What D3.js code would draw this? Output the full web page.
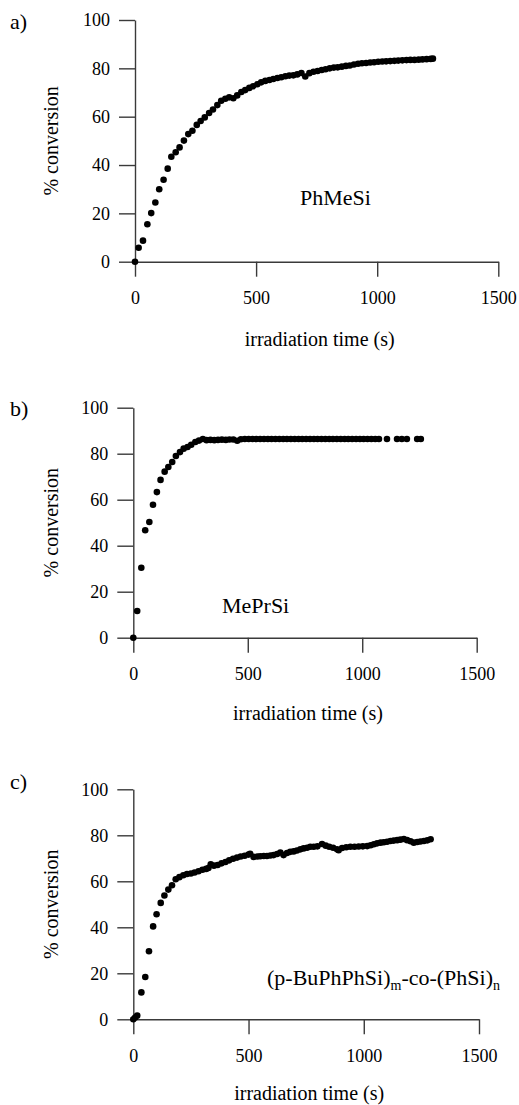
<!DOCTYPE html>
<html>
<head>
<meta charset="utf-8">
<script src="https://cdn.jsdelivr.net/npm/d3@7"></script>
<style>
  body { margin: 0; background: #fff; }
  svg { display: block; }
  svg text { font-family: "Liberation Serif", "Times New Roman", serif; }
</style>
</head>
<body>
<div id="chart"></div>
<script>
// panel a) PhMeSi
const timeA = [0, 15, 33, 51, 67, 84, 100, 118, 135, 150, 168, 184, 202, 220, 237, 255, 271, 288, 306, 322,
  340, 356, 373, 389, 406, 422, 439, 455, 472, 488, 505, 521, 538, 555, 571, 588, 604, 621, 637, 654,
  670, 687, 703, 720, 737, 754, 771, 787, 804, 821, 837, 854, 871, 887, 904, 921, 937, 954, 971, 987,
  1004, 1021, 1037, 1054, 1071, 1087, 1104, 1121, 1137, 1154, 1171, 1187, 1204, 1221, 1230];
const convA = [0, 5.8, 8.7, 15.5, 20.1, 24.5, 30.0, 33.9, 38.5, 43.4, 45.3, 47.3, 50.1, 52.8, 54.2, 56.6, 58.2, 59.7, 61.5, 63.0,
  64.8, 66.6, 67.4, 68.0, 67.6, 68.8, 70.2, 71.0, 71.9, 72.6, 73.4, 74.2, 74.8, 75.2, 75.6, 76.0, 76.3, 76.7, 77.0, 77.1,
  77.5, 78.1, 76.6, 78.0, 78.6, 78.9, 79.3, 79.6, 80.0, 80.3, 80.4, 80.7, 81.0, 81.2, 81.6, 81.9, 82.1, 82.2, 82.4, 82.5,
  82.7, 82.8, 82.9, 83.0, 83.1, 83.2, 83.3, 83.4, 83.5, 83.5, 83.6, 83.7, 83.8, 83.9, 84.0];

// panel b) MePrSi
const timeB = [0, 17, 35, 52, 70, 86, 103, 119, 137, 153, 170, 186, 204, 220, 237, 253, 271, 287, 304, 320,
  337, 354, 370, 387, 404, 420, 437, 454, 470, 487, 504, 521, 537, 554, 571, 588, 604, 621, 638, 655,
  671, 688, 705, 722, 738, 755, 772, 789, 805, 822, 839, 856, 872, 889, 906, 923, 939, 956, 973, 990,
  1006, 1023, 1040, 1057, 1073, 1108, 1152, 1173, 1195, 1240, 1256];
const convB = [0, 11.6, 30.4, 46.7, 50.3, 57.8, 63.3, 68.6, 72.2, 74.2, 76.4, 79.0, 80.7, 82.2, 82.9, 83.9, 85.1, 85.7, 86.4, 85.9,
  86.0, 85.9, 86.0, 86.1, 86.0, 86.2, 86.2, 85.6, 86.3, 86.4, 86.4, 86.4, 86.4, 86.4, 86.4, 86.4, 86.4, 86.4, 86.4, 86.4,
  86.4, 86.4, 86.4, 86.4, 86.4, 86.4, 86.4, 86.4, 86.4, 86.4, 86.4, 86.4, 86.4, 86.4, 86.4, 86.4, 86.4, 86.4, 86.4, 86.4,
  86.4, 86.4, 86.4, 86.4, 86.4, 86.4, 86.4, 86.4, 86.4, 86.4, 86.4];

// panel c) (p-BuPhPhSi)m-co-(PhSi)n
const timeC = [0, 8, 17, 35, 52, 68, 86, 101, 119, 135, 152, 168, 184, 200, 217, 233, 250, 266, 283, 300,
  316, 326, 336, 350, 366, 383, 400, 416, 433, 450, 466, 483, 500, 507, 522, 538, 551, 566, 580, 595,
  609, 624, 638, 652, 667, 681, 696, 710, 725, 739, 754, 768, 783, 799, 819, 835, 850, 867, 884, 891,
  906, 924, 942, 960, 978, 996, 1015, 1030, 1044, 1058, 1073, 1087, 1101, 1116, 1130, 1145, 1159, 1174, 1188, 1203,
  1217, 1232, 1246, 1261, 1276, 1290];
const convC = [0, 0.8, 1.6, 11.7, 18.4, 29.6, 40.4, 45.7, 50.6, 53.8, 56.4, 58.3, 60.9, 61.8, 62.6, 63.2, 63.4, 63.8, 64.4, 65.0,
  65.4, 65.8, 67.4, 66.8, 67.1, 67.8, 68.4, 69.1, 69.8, 70.3, 70.8, 71.1, 71.6, 72.0, 70.6, 70.8, 70.9, 71.0, 71.0, 71.2,
  71.4, 71.9, 72.5, 71.4, 72.3, 72.8, 73.0, 73.4, 73.9, 74.3, 74.6, 75.0, 75.0, 75.2, 76.2, 75.5, 75.0, 74.6, 73.9, 73.5,
  74.5, 74.8, 75.0, 75.0, 75.1, 75.2, 75.3, 75.7, 76.1, 76.5, 76.8, 77.0, 77.2, 77.5, 77.7, 77.9, 78.1, 78.4, 77.9, 77.4,
  76.8, 77.1, 77.3, 77.5, 77.8, 78.3];

const xTicks = [0, 500, 1000, 1500];
const yTicks = [0, 20, 40, 60, 80, 100];

const width = 519;
const height = 1105;
const font = "'Liberation Serif', 'Times New Roman', serif";
const axisColor = "#3a3a3a";

const panels = [
  {tag: "a)", tagY: 29, left: 135, right: 498.3, top: 20, bottom: 261.7, titleY: 346,
   time: timeA, conv: convA, label: "PhMeSi", labelX: 300, labelY: 205},
  {tag: "b)", tagY: 416, left: 133.3, right: 476.7, top: 407.7, bottom: 637.7, titleY: 720,
   time: timeB, conv: convB, label: "MePrSi", labelX: 222, labelY: 613},
  {tag: "c)", tagY: 789, left: 133.3, right: 479, top: 789.3, bottom: 1019.3, titleY: 1100,
   time: timeC, conv: convC, label: null, labelX: 267, labelY: 985}
];

const svg = d3.select("#chart").append("svg")
  .attr("width", width)
  .attr("height", height)
  .attr("viewBox", [0, 0, width, height]);

panels.forEach(p => {
  const x = d3.scaleLinear().domain([0, 1500]).range([p.left, p.right]);
  const y = d3.scaleLinear().domain([0, 100]).range([p.bottom, p.top]);
  const g = svg.append("g");

  // y axis
  g.append("g")
    .attr("transform", `translate(${p.left},0)`)
    .call(d3.axisLeft(y).tickValues(yTicks).tickFormat(d3.format("d"))
      .tickSize(16).tickPadding(9).tickSizeOuter(0))
    .call(a => a.attr("font-family", null))
    .call(a => a.selectAll("path, line").attr("stroke", axisColor).attr("stroke-width", 1.4))
    .call(a => a.selectAll("text").attr("fill", "#000").attr("font-size", 18).style("font-family", font));

  // x axis
  g.append("g")
    .attr("transform", `translate(0,${p.bottom})`)
    .call(d3.axisBottom(x).tickValues(xTicks).tickFormat(d3.format("d"))
      .tickSize(15).tickPadding(15).tickSizeOuter(0))
    .call(a => a.attr("font-family", null))
    .call(a => a.selectAll("path, line").attr("stroke", axisColor).attr("stroke-width", 1.4))
    .call(a => a.selectAll("text").attr("fill", "#000").attr("font-size", 18).style("font-family", font));

  // axis titles
  g.append("text")
    .attr("transform", `translate(58,${(p.top + p.bottom) / 2}) rotate(-90)`)
    .attr("text-anchor", "middle")
    .attr("font-size", 20)
    .text("% conversion");

  g.append("text")
    .attr("x", (p.left + p.right) / 2 + 3)
    .attr("y", p.titleY)
    .attr("text-anchor", "middle")
    .attr("font-size", 20)
    .text("irradiation time (s)");

  // panel tag
  g.append("text")
    .attr("x", 10)
    .attr("y", p.tagY)
    .attr("font-size", 22)
    .text(p.tag);

  // series label
  const lab = g.append("text")
    .attr("x", p.labelX)
    .attr("y", p.labelY)
    .attr("font-size", 22);
  if (p.label) {
    lab.text(p.label);
  } else {
    lab.append("tspan").text("(p-BuPhPhSi)");
    lab.append("tspan").attr("font-size", 14).attr("dy", 5).text("m");
    lab.append("tspan").attr("dy", -5).text("-co-(PhSi)");
    lab.append("tspan").attr("font-size", 14).attr("dy", 5).text("n");
  }

  // points
  g.append("g")
    .selectAll("circle")
    .data(d3.zip(p.time, p.conv))
    .join("circle")
    .attr("cx", d => x(d[0]))
    .attr("cy", d => y(d[1]))
    .attr("r", 3.3)
    .attr("fill", "#000");
});
</script>
</body>
</html>
